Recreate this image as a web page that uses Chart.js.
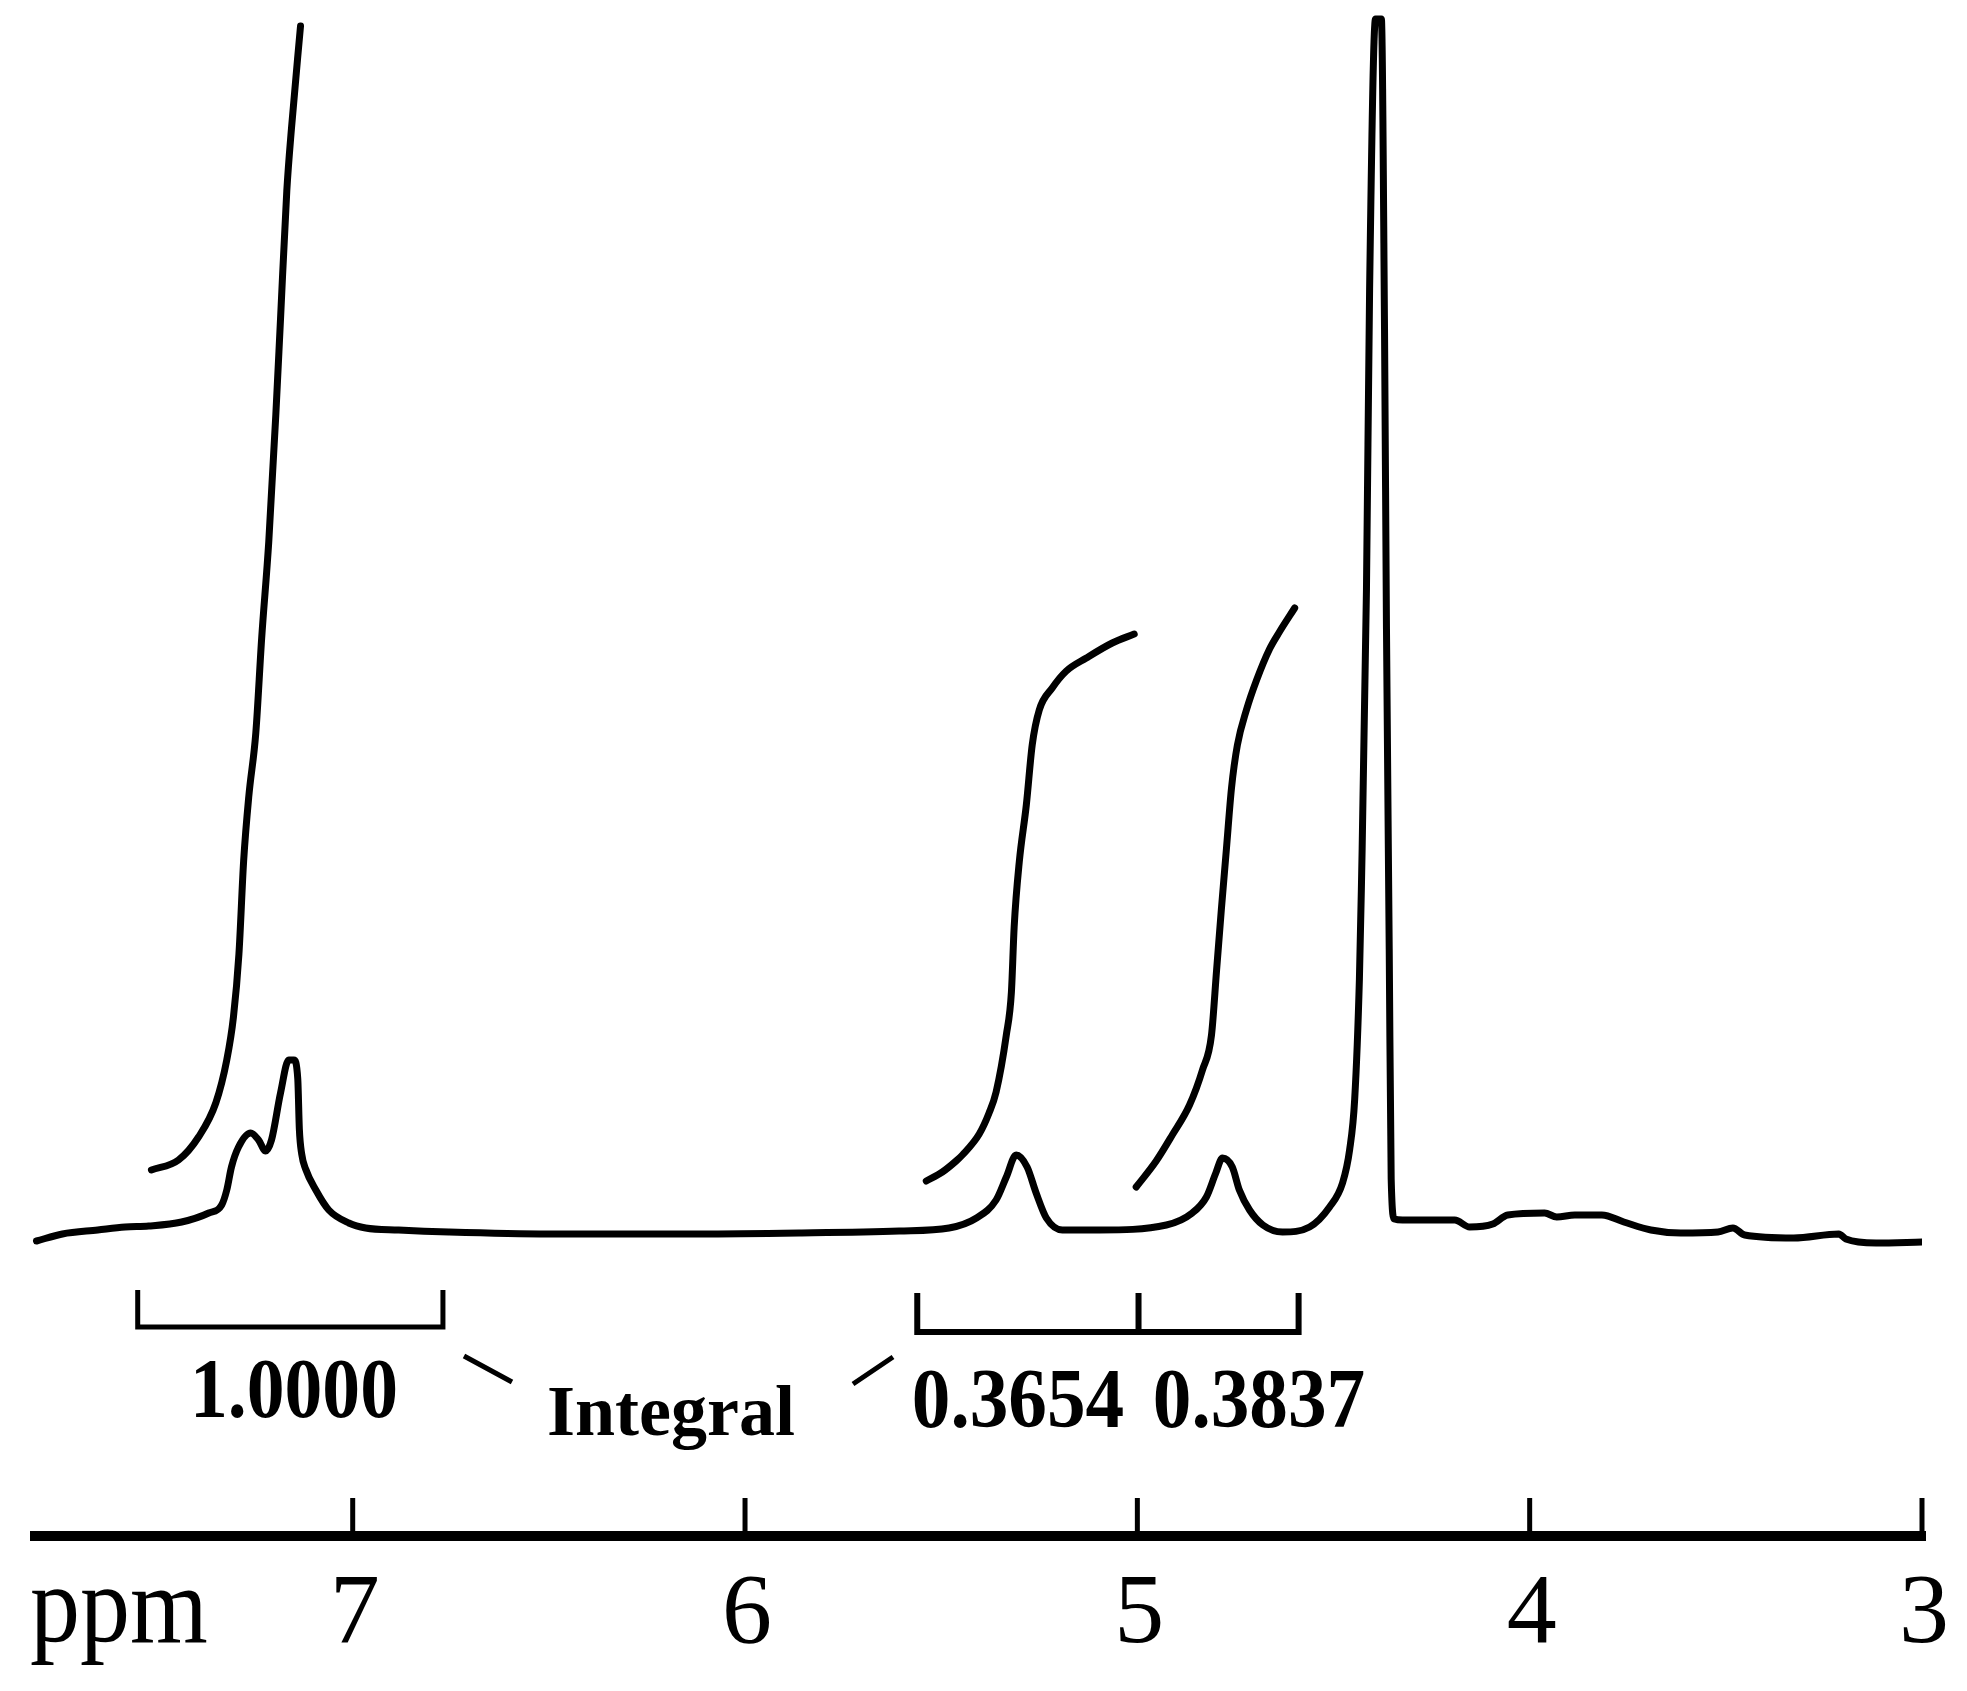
<!DOCTYPE html>
<html>
<head>
<meta charset="utf-8">
<title>1H NMR spectrum</title>
<script src="https://cdn.jsdelivr.net/npm/chart.js@4.4.0/dist/chart.umd.min.js"></script>
<style>
  html, body { margin: 0; padding: 0; background: #fff; }
  canvas { display: block; }
</style>
</head>
<body>
<canvas id="nmr-chart" width="1967" height="1691"></canvas>
<script>
// Spectrum trace (ppm, intensity in arbitrary units)
const spectrumPpm = [7.806, 7.74, 7.65, 7.58, 7.52, 7.436, 7.367, 7.334, 7.321, 7.309, 7.291, 7.26, 7.24, 7.222, 7.207,
    7.184, 7.163, 7.15, 7.14, 7.136, 7.13, 7.12, 7.094, 7.061, 7.01, 6.967, 6.883, 6.755, 6.5, 6.117, 5.862, 5.607,
    5.48, 5.41, 5.36, 5.334, 5.309, 5.281, 5.258, 5.232, 5.191, 5.097, 4.926, 4.86, 4.824, 4.8, 4.783, 4.758, 4.74,
    4.714, 4.68, 4.63, 4.561, 4.51, 4.477, 4.459, 4.446, 4.434, 4.429, 4.416, 4.408, 4.393, 4.378, 4.37, 4.365,
    4.358, 4.353, 4.345, 4.324, 4.191, 4.153, 4.094, 4.056, 3.962, 3.931, 3.885, 3.816, 3.76, 3.691, 3.615, 3.52,
    3.482, 3.452, 3.327, 3.212, 3.194, 3.117, 3.0];
const spectrumInt = [-1.2, -0.5, -0.1, 0.2, 0.3, 0.7, 1.6, 2.4, 3.9, 6.2, 8.2, 9.6, 8.9, 7.8, 8.9,
    13.6, 16.9, 16.9, 15.0, 10.0, 7.5, 6.0, 3.9, 1.9, 0.6, 0.1, -0.1, -0.3, -0.5, -0.5, -0.4, -0.2,
    0.1, 1.1, 2.9, 5.2, 7.4, 6.2, 3.6, 1.1, -0.1, -0.1, 0.4, 1.6, 3.2, 5.6, 7.1, 6.2, 3.9,
    1.9, 0.4, -0.3, 0.2, 2.2, 4.6, 7.9, 13, 25, 34, 64, 94, 121, 121, 90, 60,
    28, 5, 1.0, 0.9, 0.9, 0.2, 0.5, 1.4, 1.6, 1.2, 1.4, 1.4, 0.7, -0.1, -0.4, -0.3,
    0.1, -0.6, -0.9, -0.5, -1.0, -1.4, -1.3];

// Integral curves
const integral1Ppm = [7.513, 7.444, 7.393, 7.349, 7.321, 7.304, 7.29, 7.278, 7.265, 7.247, 7.232, 7.214, 7.196, 7.184, 7.168, 7.156, 7.133];
const integral1Val = [5.9, 6.9, 9.2, 12.6, 16.9, 21.2, 27.5, 36.8, 43.2, 49.6, 59.1, 68.7, 81.4, 91.0, 103.8, 110.1, 120.3];
const integral2Ppm = [5.538, 5.497, 5.462, 5.446, 5.403, 5.378, 5.36, 5.334, 5.321, 5.314, 5.301, 5.283, 5.268, 5.25, 5.217, 5.181, 5.13, 5.064, 5.008];
const integral2Val = [4.8, 5.7, 6.8, 7.4, 9.5, 11.6, 13.7, 19.4, 23.7, 30.2, 36.7, 42.4, 48.4, 51.9, 54.1, 55.8, 57.1, 58.6, 59.5];
const integral3Ppm = [5.003, 4.952, 4.911, 4.867, 4.834, 4.811, 4.798, 4.786, 4.773, 4.76, 4.745, 4.722, 4.696, 4.663, 4.638, 4.599];
const integral3Val = [4.2, 6.8, 9.4, 12.4, 15.9, 19.4, 25.9, 31.9, 38.0, 44.1, 48.4, 51.9, 54.9, 58.0, 59.7, 62.1];

// Integration regions (ppm edges) and their values
const integralRegions = [[7.548, 6.770], [5.561, 4.997, 4.589]];
const integralLabels = ['1.0000', '0.3654', '0.3837'];

// Axis
const tickValues = [7, 6, 5, 4, 3];
const tickLabels = ['7', '6', '5', '4', '3'];
const axisTitle = 'ppm';

document.addEventListener('DOMContentLoaded', () => {
    const canvas = document.getElementById('nmr-chart');
    const toPoints = (xs, ys) => xs.map((x, i) => ({ x: x, y: ys[i] }));

    const lineStyle = {
        showLine: true,
        pointRadius: 0,
        borderColor: '#000',
        borderWidth: 7,
        borderJoinStyle: 'round',
        borderCapStyle: 'round',
        cubicInterpolationMode: 'monotone',
        fill: false
    };

    // draws the ppm axis, brackets and labels the NMR way
    const nmrDecor = {
        id: 'nmrDecor',
        afterDraw(chart) {
            const ctx = chart.ctx;
            const xs = chart.scales.x;
            const area = chart.chartArea;
            const px = v => xs.getPixelForValue(v);
            ctx.save();
            ctx.fillStyle = '#000';
            ctx.strokeStyle = '#000';

            // axis line + upward ticks
            ctx.fillRect(area.left - 1, 1531, area.right - area.left + 5, 10);
            ctx.lineWidth = 5;
            tickValues.forEach(v => {
                ctx.beginPath();
                ctx.moveTo(px(v), 1498);
                ctx.lineTo(px(v), 1532);
                ctx.stroke();
            });

            ctx.font = '100px "Liberation Serif", "Times New Roman", serif';
            ctx.textBaseline = 'alphabetic';
            ctx.textAlign = 'center';
            tickValues.forEach((v, i) => ctx.fillText(tickLabels[i], px(v) + 2, 1642));
            ctx.save();
            ctx.translate(30, 1642);
            ctx.scale(1, 1.1);
            ctx.textAlign = 'left';
            ctx.fillText(axisTitle, 0, 0);
            ctx.restore();

            // integration brackets
            ctx.lineWidth = 5;
            ctx.lineCap = 'butt';
            const r1 = integralRegions[0];
            ctx.beginPath();
            ctx.moveTo(px(r1[0]), 1290);
            ctx.lineTo(px(r1[0]), 1327);
            ctx.lineTo(px(r1[1]), 1327);
            ctx.lineTo(px(r1[1]), 1290);
            ctx.stroke();
            const r2 = integralRegions[1];
            ctx.lineWidth = 6;
            ctx.beginPath();
            ctx.moveTo(px(r2[0]), 1293);
            ctx.lineTo(px(r2[0]), 1332);
            ctx.lineTo(px(r2[2]), 1332);
            ctx.lineTo(px(r2[2]), 1293);
            ctx.moveTo(px(r2[1]), 1293);
            ctx.lineTo(px(r2[1]), 1332);
            ctx.stroke();

            // integral values
            const drawCondensed = (text, cx, base, font, sx) => {
                ctx.save();
                ctx.translate(cx, base);
                ctx.scale(sx, 1);
                ctx.font = font;
                ctx.textAlign = 'center';
                ctx.fillText(text, 0, 0);
                ctx.restore();
            };
            const numFont = 'bold 84px "Liberation Serif", "Times New Roman", serif';
            drawCondensed(integralLabels[0], 294, 1417, numFont, 0.9);
            drawCondensed(integralLabels[1], 1018, 1427, numFont, 0.92);
            drawCondensed(integralLabels[2], 1259, 1427, numFont, 0.92);
            drawCondensed('Integral', 671, 1435, 'bold 72px "Liberation Serif", "Times New Roman", serif', 1.0);

            // little leader strokes next to "Integral"
            ctx.lineWidth = 5;
            ctx.beginPath();
            ctx.moveTo(464, 1356);
            ctx.lineTo(512, 1382);
            ctx.moveTo(893, 1357);
            ctx.lineTo(853, 1384);
            ctx.stroke();
            ctx.restore();
        }
    };

    new Chart(canvas.getContext('2d'), {
        type: 'scatter',
        data: {
            datasets: [
                Object.assign({ label: 'Spectrum', data: toPoints(spectrumPpm, spectrumInt) }, lineStyle),
                Object.assign({ label: 'Integral 1', data: toPoints(integral1Ppm, integral1Val) }, lineStyle),
                Object.assign({ label: 'Integral 2', data: toPoints(integral2Ppm, integral2Val) }, lineStyle),
                Object.assign({ label: 'Integral 3', data: toPoints(integral3Ppm, integral3Val) }, lineStyle)
            ]
        },
        options: {
            responsive: false,
            animation: false,
            layout: { padding: { left: 31, right: 45, top: 0, bottom: 0 } },
            scales: {
                x: {
                    type: 'linear',
                    reverse: true,
                    min: 3,
                    max: 7.82,
                    afterBuildTicks: scale => { scale.ticks = tickValues.map(v => ({ value: v })); },
                    afterFit: scale => { scale.height = 155; },
                    ticks: { display: false },
                    grid: { display: false },
                    border: { display: false }
                },
                y: {
                    display: false,
                    min: -30.7,
                    max: 122.9
                }
            },
            plugins: {
                legend: { display: false },
                tooltip: { enabled: false }
            }
        },
        plugins: [nmrDecor]
    });
});
</script>
</body>
</html>
